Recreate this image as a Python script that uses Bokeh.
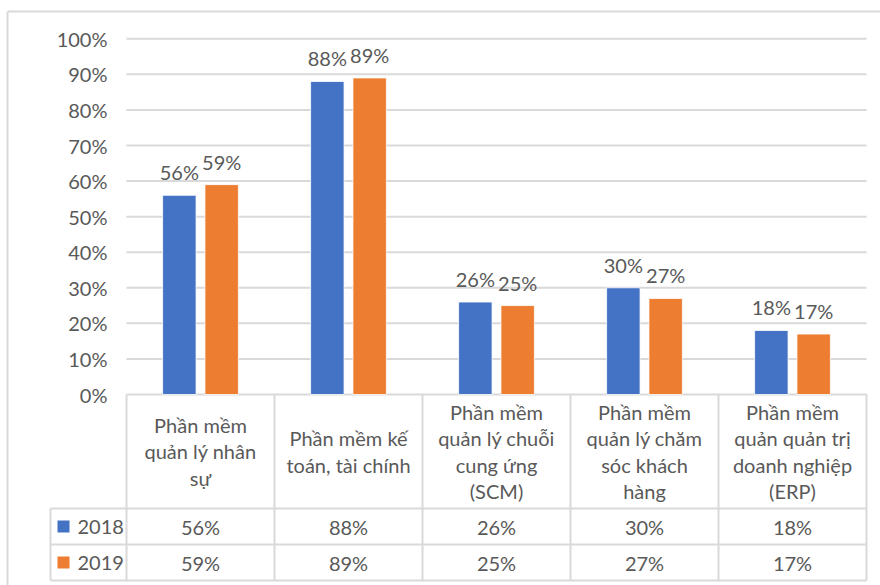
from bokeh.plotting import figure
from bokeh.models import Range1d, FixedTicker, NumeralTickFormatter
from bokeh.embed import file_html
from bokeh.resources import INLINE
from bokeh.core.properties import value

# ---- data ----
categories = [
    "Phần mềm\nquản lý nhân\nsự",
    "Phần mềm kế\ntoán, tài chính",
    "Phần mềm\nquản lý chuỗi\ncung ứng\n(SCM)",
    "Phần mềm\nquản lý chăm\nsóc khách\nhàng",
    "Phần mềm\nquản quản trị\ndoanh nghiệp\n(ERP)",
]
series_names = ["2018", "2019"]
values_2018 = [0.56, 0.88, 0.26, 0.30, 0.18]
values_2019 = [0.59, 0.89, 0.25, 0.27, 0.17]
y_ticks = [0.0, 0.1, 0.2, 0.3, 0.4, 0.5, 0.6, 0.7, 0.8, 0.9, 1.0]

# ---- style / layout constants ----
FONT = "Lato"
TXT = "#595959"
GRID = "#d9d9d9"
BLUE = "#4472C4"
ORANGE = "#ED7D31"
FS = "20px"

W, H = 880, 585
X0_PX, COL_PX = 126, 148          # plot-area left edge, category width
Y0_PX, UNIT_PX = 394, 355.7       # 0% line, pixels per 100%

def xd(px):
    return (px - X0_PX) / COL_PX

def yd(py):
    return (Y0_PX - py) / UNIT_PX

n = len(categories)
centers = [i + 0.5 for i in range(n)]
offset = 0.143
bar_w = 0.226

header_h = 114 / UNIT_PX
row_h = 36 / UNIT_PX
left_col = xd(50)

p = figure(
    width=W, height=H,
    x_range=Range1d(xd(0), xd(W)),
    y_range=Range1d(yd(H), yd(0)),
    x_axis_location=None,
    output_backend="svg", toolbar_location=None,
    min_border_left=0, min_border_right=0, min_border_top=0, min_border_bottom=0,
)
p.outline_line_color = None
p.xgrid.visible = False
p.ygrid.visible = False
p.background_fill_color = "white"
p.border_fill_color = "white"

# y axis (labels pushed into the canvas)
ya = p.yaxis[0]
ya.ticker = FixedTicker(ticks=y_ticks)
ya.formatter = NumeralTickFormatter(format="0%")
ya.axis_line_color = None
ya.major_tick_line_color = None
ya.minor_tick_line_color = None
ya.major_tick_out = 0
ya.major_tick_in = 0
ya.major_label_standoff = -107
ya.major_label_text_font = FONT
ya.major_label_text_font_size = FS
ya.major_label_text_color = TXT

# outer chart border
p.segment(x0=[xd(7), xd(7)], x1=[xd(7), xd(W)], y0=[yd(11), yd(11)], y1=[yd(H), yd(11)],
          line_color=GRID, line_width=2)

# gridlines (also table top line at 0)
p.segment(x0=[0] * len(y_ticks), x1=[n] * len(y_ticks), y0=y_ticks, y1=y_ticks,
          line_color=GRID, line_width=2)

# bars
p.vbar(x=[c - offset for c in centers], top=values_2018, width=bar_w, bottom=0,
       fill_color=BLUE, line_color="white", line_width=0.8)
p.vbar(x=[c + offset for c in centers], top=values_2019, width=bar_w, bottom=0,
       fill_color=ORANGE, line_color="white", line_width=0.8)

# value labels
lab_kw = dict(text_align="center", text_baseline="alphabetic", y_offset=-23,
              text_font=value(FONT), text_font_size=FS, text_color=TXT)
p.text(x=[c - offset for c in centers], y=values_2018,
       text=[f"{round(v * 100)}%" for v in values_2018], **lab_kw)
p.text(x=[c + offset for c in centers], y=values_2019,
       text=[f"{round(v * 100)}%" for v in values_2019], **lab_kw)

# ---- data table ----
y_h = -header_h
y_r1 = y_h - row_h
y_r2 = y_r1 - row_h
p.segment(x0=list(range(n + 1)), x1=list(range(n + 1)), y0=[0] * (n + 1), y1=[y_r2] * (n + 1),
          line_color=GRID, line_width=2)
p.segment(x0=[left_col], x1=[left_col], y0=[y_h], y1=[y_r2],
          line_color=GRID, line_width=2)
p.segment(x0=[left_col] * 3, x1=[n] * 3, y0=[y_h, y_r1, y_r2], y1=[y_h, y_r1, y_r2],
          line_color=GRID, line_width=2)

# header text
p.text(x=centers, y=[-header_h / 2] * n, text=categories,
       text_align="center", text_baseline="middle", text_line_height=1.1,
       text_font=value(FONT), text_font_size=FS, text_color=TXT)

# row legend keys + names
row_ys = [y_h - row_h / 2, y_r1 - row_h / 2]
p.scatter(x=[xd(63)] * 2, y=row_ys, marker="square", size=12,
          fill_color=[BLUE, ORANGE], line_color=None)
p.text(x=[xd(77)] * 2, y=row_ys, text=series_names,
       text_align="left", text_baseline="middle",
       text_font=value(FONT), text_font_size=FS, text_color=TXT)

# row values
p.text(x=centers, y=[row_ys[0]] * n, text=[f"{round(v * 100)}%" for v in values_2018],
       text_align="center", text_baseline="middle",
       text_font=value(FONT), text_font_size=FS, text_color=TXT)
p.text(x=centers, y=[row_ys[1]] * n, text=[f"{round(v * 100)}%" for v in values_2019],
       text_align="center", text_baseline="middle",
       text_font=value(FONT), text_font_size=FS, text_color=TXT)

open("out.html", "w").write(file_html(p, INLINE))
